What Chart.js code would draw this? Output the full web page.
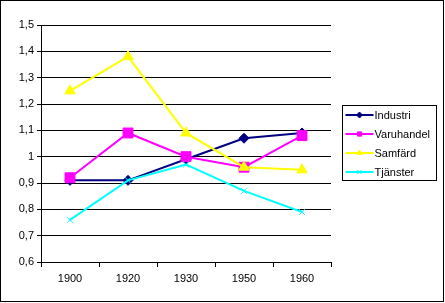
<!DOCTYPE html>
<html>
<head>
<meta charset="utf-8">
<script src="https://cdn.jsdelivr.net/npm/chart.js@4.4.1/dist/chart.umd.min.js"></script>
<style>
  html, body { margin: 0; padding: 0; background: #fff; }
  canvas { display: block; }
</style>
</head>
<body>
<canvas id="chart" width="445" height="303"></canvas>
<script>
const years = ["1900", "1920", "1930", "1950", "1960"];
const industri = [0.91, 0.91, 0.99, 1.07, 1.09];
const varuhandel = [0.92, 1.09, 1.0, 0.96, 1.08];
const samfard = [1.25, 1.38, 1.09, 0.96, 0.95];
const tjanster = [0.76, 0.91, 0.97, 0.87, 0.79];

const FONT = "'Liberation Sans', Arial, sans-serif";

const series = [
  { label: "Industri", data: industri, color: "#000080", style: "rectRot", radius: 5 },
  { label: "Varuhandel", data: varuhandel, color: "#ff00ff", style: "rect", radius: 7 },
  { label: "Samfärd", data: samfard, color: "#ffff00", style: "triangle", radius: 6 },
  { label: "Tjänster", data: tjanster, color: "#00ffff", style: "crossRot", radius: 4 },
];

// excel-style legend box with line + marker, plus outer frame
const frameLegend = {
  id: "frameLegend",
  afterDraw(chart) {
    const ctx = chart.ctx;
    ctx.save();
    ctx.strokeStyle = "#000";
    ctx.lineWidth = 1;
    ctx.strokeRect(0.5, 0.5, 443, 301);

    const bx = chart.chartArea.right + 11.5;
    const by = 105.5;
    ctx.strokeRect(bx, by, 94, 75);

    ctx.font = "11px " + FONT;
    ctx.textBaseline = "middle";
    series.forEach((s, i) => {
      const y = 115 + i * 19;
      ctx.strokeStyle = s.color;
      ctx.lineWidth = 2;
      ctx.beginPath();
      ctx.moveTo(bx + 3, y);
      ctx.lineTo(bx + 31, y);
      ctx.stroke();
      ctx.fillStyle = s.color;
      ctx.lineWidth = 1;
      Chart.helpers.drawPoint(ctx, { pointStyle: s.style, radius: 3, rotation: 0, borderWidth: 1 }, bx + 17, y);
      ctx.fillStyle = "#000";
      ctx.fillText(s.label, bx + 32, y + 1);
    });
    ctx.restore();
  },
};

new Chart(document.getElementById("chart"), {
  type: "line",
  plugins: [frameLegend],
  data: {
    labels: years,
    datasets: series.map((s, i) => ({
      label: s.label,
      data: s.data,
      borderColor: s.color,
      backgroundColor: s.color,
      pointBackgroundColor: s.color,
      pointBorderColor: s.color,
      pointStyle: s.style,
      pointRadius: s.radius,
      pointBorderWidth: 1,
      borderWidth: 2,
      tension: 0,
      order: series.length - i,
    })),
  },
  options: {
    responsive: false,
    animation: false,
    layout: { padding: { left: 0, top: 25, right: 114, bottom: 0 } },
    plugins: {
      legend: { display: false },
      tooltip: { enabled: false },
    },
    scales: {
      x: {
        offset: true,
        afterFit: (scale) => { scale.height = 41; },
        grid: {
          offset: true,
          drawOnChartArea: false,
          drawTicks: true,
          tickLength: 5,
          color: "#000",
        },
        border: { color: "#000", width: 1 },
        ticks: {
          color: "#000",
          padding: 5,
          maxRotation: 0,
          font: { family: FONT, size: 11 },
        },
      },
      y: {
        min: 0.6,
        max: 1.5,
        afterFit: (scale) => { scale.width = 41; },
        grid: {
          color: "#000",
          tickLength: 4,
          drawTicks: true,
        },
        border: { color: "#000", width: 1 },
        ticks: {
          stepSize: 0.1,
          color: "#000",
          padding: 3,
          font: { family: FONT, size: 11 },
          callback: (v) => String(Number(v.toFixed(1))).replace(".", ","),
        },
      },
    },
  },
});
</script>
</body>
</html>
